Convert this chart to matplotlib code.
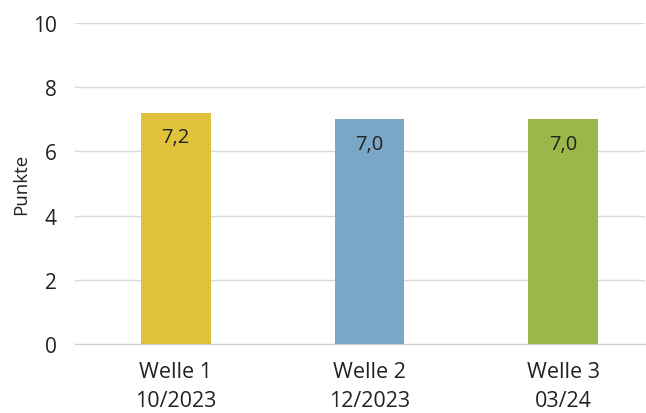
import matplotlib.pyplot as plt

categories = ["Welle 1\n10/2023", "Welle 2\n12/2023", "Welle 3\n03/24"]
values = [7.2, 7.0, 7.0]
labels = ["7,2", "7,0", "7,0"]
colors = ["#E0C23B", "#7AA7C6", "#9BB74A"]

plt.rcParams['font.family'] = ['Open Sans', 'DejaVu Sans']

fig = plt.figure(figsize=(6.46, 4.14), dpi=100)
ax = fig.add_axes([0.116, 0.167, 0.882, 0.775])

x = range(len(categories))
bars = ax.bar(x, values, width=0.36, color=colors, zorder=3)
for b, lab in zip(bars, labels):
    ax.text(b.get_x() + b.get_width() / 2, b.get_height() - 0.45, lab,
            ha='center', va='top', fontsize=14.5, color='#222222', zorder=4)

ax.set_ylim(0, 10)
ax.set_xlim(-0.52, 2.42)
ax.set_yticks([0, 2, 4, 6, 8, 10])
ax.set_xticks(list(x))
ax.set_xticklabels(categories, fontsize=15.5, color='#222222', linespacing=1.5)
ax.tick_params(axis='y', labelsize=15, colors='#222222', length=0, pad=13)
ax.tick_params(axis='x', length=0, pad=12)
ax.grid(axis='y', color='#d9d9d9', linewidth=1, zorder=0)
for s in ['top', 'right', 'left']:
    ax.spines[s].set_visible(False)
ax.spines['bottom'].set_color('#d0d0d0')
ax.set_ylabel("Punkte", fontsize=13.5, color='#222222', labelpad=2)

fig.savefig("out.png", dpi=100)
